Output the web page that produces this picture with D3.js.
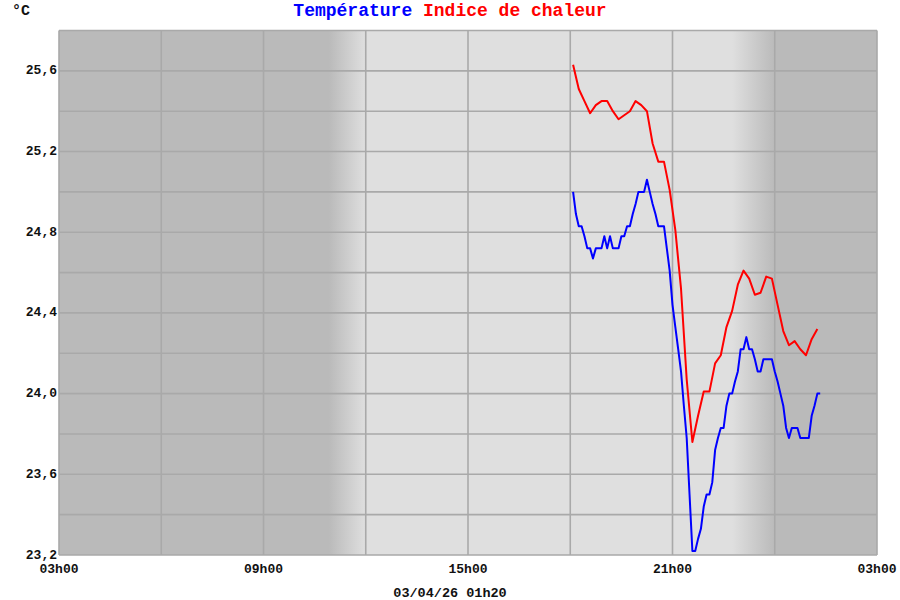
<!DOCTYPE html>
<html>
<head>
<meta charset="utf-8">
<script src="https://cdn.jsdelivr.net/npm/d3@7"></script>
<style>
  body { margin: 0; background: #fff; }
  text { font-family: "Liberation Mono", "DejaVu Sans Mono", monospace; font-weight: bold; }
</style>
</head>
<body>
<div id="chart"></div>
<script>
// temperature, every 5 minutes
var tempTimes = ["18:05","18:10","18:15","18:20","18:25","18:30","18:35","18:40","18:45","18:50","18:55",
  "19:00","19:05","19:10","19:15","19:20","19:25","19:30","19:35","19:40","19:45","19:50","19:55",
  "20:00","20:05","20:10","20:15","20:20","20:25","20:30","20:35","20:40","20:45","20:50","20:55",
  "21:00","21:05","21:10","21:15","21:20","21:25","21:30","21:35","21:40","21:45","21:50","21:55",
  "22:00","22:05","22:10","22:15","22:20","22:25","22:30","22:35","22:40","22:45","22:50","22:55",
  "23:00","23:05","23:10","23:15","23:20","23:25","23:30","23:35","23:40","23:45","23:50","23:55",
  "00:00","00:05","00:10","00:15","00:20","00:25","00:30","00:35","00:40","00:45","00:50","00:55",
  "01:00","01:05","01:10","01:15","01:20"];
var tempValues = [25.00,24.89,24.83,24.83,24.78,24.72,24.72,24.67,24.72,24.72,24.72,
  24.78,24.72,24.78,24.72,24.72,24.72,24.78,24.78,24.83,24.83,24.89,24.94,
  25.00,25.00,25.00,25.06,25.00,24.94,24.89,24.83,24.83,24.83,24.72,24.61,
  24.44,24.33,24.22,24.11,23.94,23.78,23.50,23.22,23.22,23.28,23.33,23.44,
  23.50,23.50,23.56,23.72,23.78,23.83,23.83,23.94,24.00,24.00,24.06,24.11,
  24.22,24.22,24.28,24.22,24.22,24.17,24.11,24.11,24.17,24.17,24.17,24.17,
  24.11,24.06,24.00,23.94,23.83,23.78,23.83,23.83,23.83,23.78,23.78,23.78,
  23.78,23.89,23.94,24.00,24.00];

// heat index, every 10 minutes
var heatTimes = ["18:05","18:15","18:25","18:35","18:45","18:55",
  "19:05","19:15","19:25","19:35","19:45","19:55",
  "20:05","20:15","20:25","20:35","20:45","20:55",
  "21:05","21:15","21:25","21:35","21:45","21:55",
  "22:05","22:15","22:25","22:35","22:45","22:55",
  "23:05","23:15","23:25","23:35","23:45","23:55",
  "00:05","00:15","00:25","00:35","00:45","00:55",
  "01:05","01:15"];
var heatValues = [25.63,25.51,25.45,25.39,25.43,25.45,
  25.45,25.40,25.36,25.38,25.40,25.45,
  25.43,25.40,25.24,25.15,25.15,25.01,
  24.81,24.52,24.07,23.76,23.89,24.01,
  24.01,24.15,24.19,24.33,24.41,24.54,
  24.61,24.57,24.49,24.50,24.58,24.57,
  24.44,24.31,24.24,24.26,24.22,24.19,
  24.27,24.32];

var yTicks = [23.2, 23.6, 24.0, 24.4, 24.8, 25.2, 25.6];
var xTickLabels = ["03h00", "09h00", "15h00", "21h00", "03h00"];
var dawn = ["10:55", "12:00"];   // night -> day shading
var dusk = ["22:45", "00:00"];   // day -> night shading

var stamp = "03/04/26 01h20";

// times before 03h00 belong to the next day
function toDate(s) {
  var h = +s.slice(0, 2), m = +s.slice(3, 5);
  return new Date(2026, 3, h < 3 ? 3 : 2, h, m);
}

var fullWidth = 900, fullHeight = 600;
var plotLeft = 59, plotRight = 877, plotTop = 30.5, plotBottom = 555;

var start = new Date(2026, 3, 2, 3, 0);
var end = new Date(2026, 3, 3, 3, 0);
var x = d3.scaleTime().domain([start, end]).range([plotLeft, plotRight]);
var y = d3.scaleLinear().domain([23.2, 25.8]).range([plotBottom, plotTop]);

var fr = d3.formatLocale({decimal: ",", thousands: " ", grouping: [3], currency: ["", ""]});
var fmt = fr.format(".1f");

var svg = d3.select("#chart").append("svg")
  .attr("width", fullWidth)
  .attr("height", fullHeight);

// background: night / day with gradients
var defs = svg.append("defs");
var dark = "#bababa", light = "#dfdfdf";
var x0 = x(toDate(dawn[0])), x1 = x(toDate(dawn[1]));
var x2 = x(toDate(dusk[0])), x3 = x(toDate(dusk[1]));
var grad = defs.append("linearGradient")
  .attr("id", "daylight")
  .attr("gradientUnits", "userSpaceOnUse")
  .attr("x1", plotLeft).attr("x2", plotRight).attr("y1", 0).attr("y2", 0);
[[plotLeft, dark], [x0, dark], [x1, light], [x2, light], [x3, dark], [plotRight, dark]].forEach(function(s) {
  grad.append("stop")
    .attr("offset", (s[0] - plotLeft) / (plotRight - plotLeft))
    .attr("stop-color", s[1]);
});

svg.append("rect")
  .attr("x", plotLeft).attr("y", plotTop)
  .attr("width", plotRight - plotLeft).attr("height", plotBottom - plotTop)
  .attr("fill", "url(#daylight)");

// grid
var gridColor = "#a9a9a9";
var yGrid = d3.range(0, 14).map(function(i) { return 23.2 + i * 0.2; });
svg.append("g").selectAll("line")
  .data(yGrid)
  .enter().append("line")
  .attr("x1", plotLeft).attr("x2", plotRight)
  .attr("y1", function(d) { return y(d); })
  .attr("y2", function(d) { return y(d); })
  .attr("stroke", gridColor)
  .attr("stroke-width", 1.6);

var xGrid = d3.range(0, 9).map(function(i) { return d3.timeHour.offset(start, 3 * i); });
svg.append("g").selectAll("line")
  .data(xGrid)
  .enter().append("line")
  .attr("x1", function(d) { return x(d); })
  .attr("x2", function(d) { return x(d); })
  .attr("y1", plotTop).attr("y2", plotBottom)
  .attr("stroke", gridColor)
  .attr("stroke-width", 1.6);

// series
var line = d3.line()
  .x(function(d) { return x(d[0]); })
  .y(function(d) { return y(d[1]); });

var heat = heatTimes.map(function(t, i) { return [toDate(t), heatValues[i]]; });
var temp = tempTimes.map(function(t, i) { return [toDate(t), tempValues[i]]; });

svg.append("path")
  .datum(heat)
  .attr("d", line)
  .attr("fill", "none")
  .attr("stroke", "#ff0000")
  .attr("stroke-width", 2)
  .attr("stroke-linejoin", "round");

svg.append("path")
  .datum(temp)
  .attr("d", line)
  .attr("fill", "none")
  .attr("stroke", "#0000ff")
  .attr("stroke-width", 2)
  .attr("stroke-linejoin", "round");

// y labels
svg.append("g").selectAll("text")
  .data(yTicks)
  .enter().append("text")
  .attr("x", 57)
  .attr("y", function(d) { return y(d) - 1; })
  .attr("dy", "0.35em")
  .attr("text-anchor", "end")
  .attr("font-size", 13)
  .attr("fill", "#111")
  .text(function(d) { return fmt(d); });

// x labels
var xTicks = d3.range(0, 5).map(function(i) { return d3.timeHour.offset(start, 6 * i); });
svg.append("g").selectAll("text")
  .data(xTicks)
  .enter().append("text")
  .attr("x", function(d) { return x(d); })
  .attr("y", 568)
  .attr("dy", "0.35em")
  .attr("text-anchor", "middle")
  .attr("font-size", 13)
  .attr("fill", "#111")
  .text(function(d, i) { return xTickLabels[i]; });

// unit, title, timestamp
svg.append("text")
  .attr("x", 12).attr("y", 10).attr("dy", "0.35em")
  .attr("font-size", 15)
  .attr("fill", "#111")
  .text("°C");

var title = svg.append("text")
  .attr("x", 450).attr("y", 10).attr("dy", "0.35em")
  .attr("text-anchor", "middle")
  .attr("font-size", 18);
title.append("tspan").attr("fill", "#0000ff").text("Température");
title.append("tspan").attr("fill", "#ff0000").text(" Indice de chaleur");

svg.append("text")
  .attr("x", 450).attr("y", 592).attr("dy", "0.35em")
  .attr("text-anchor", "middle")
  .attr("font-size", 13.5)
  .attr("fill", "#111")
  .text(stamp);
</script>
</body>
</html>
